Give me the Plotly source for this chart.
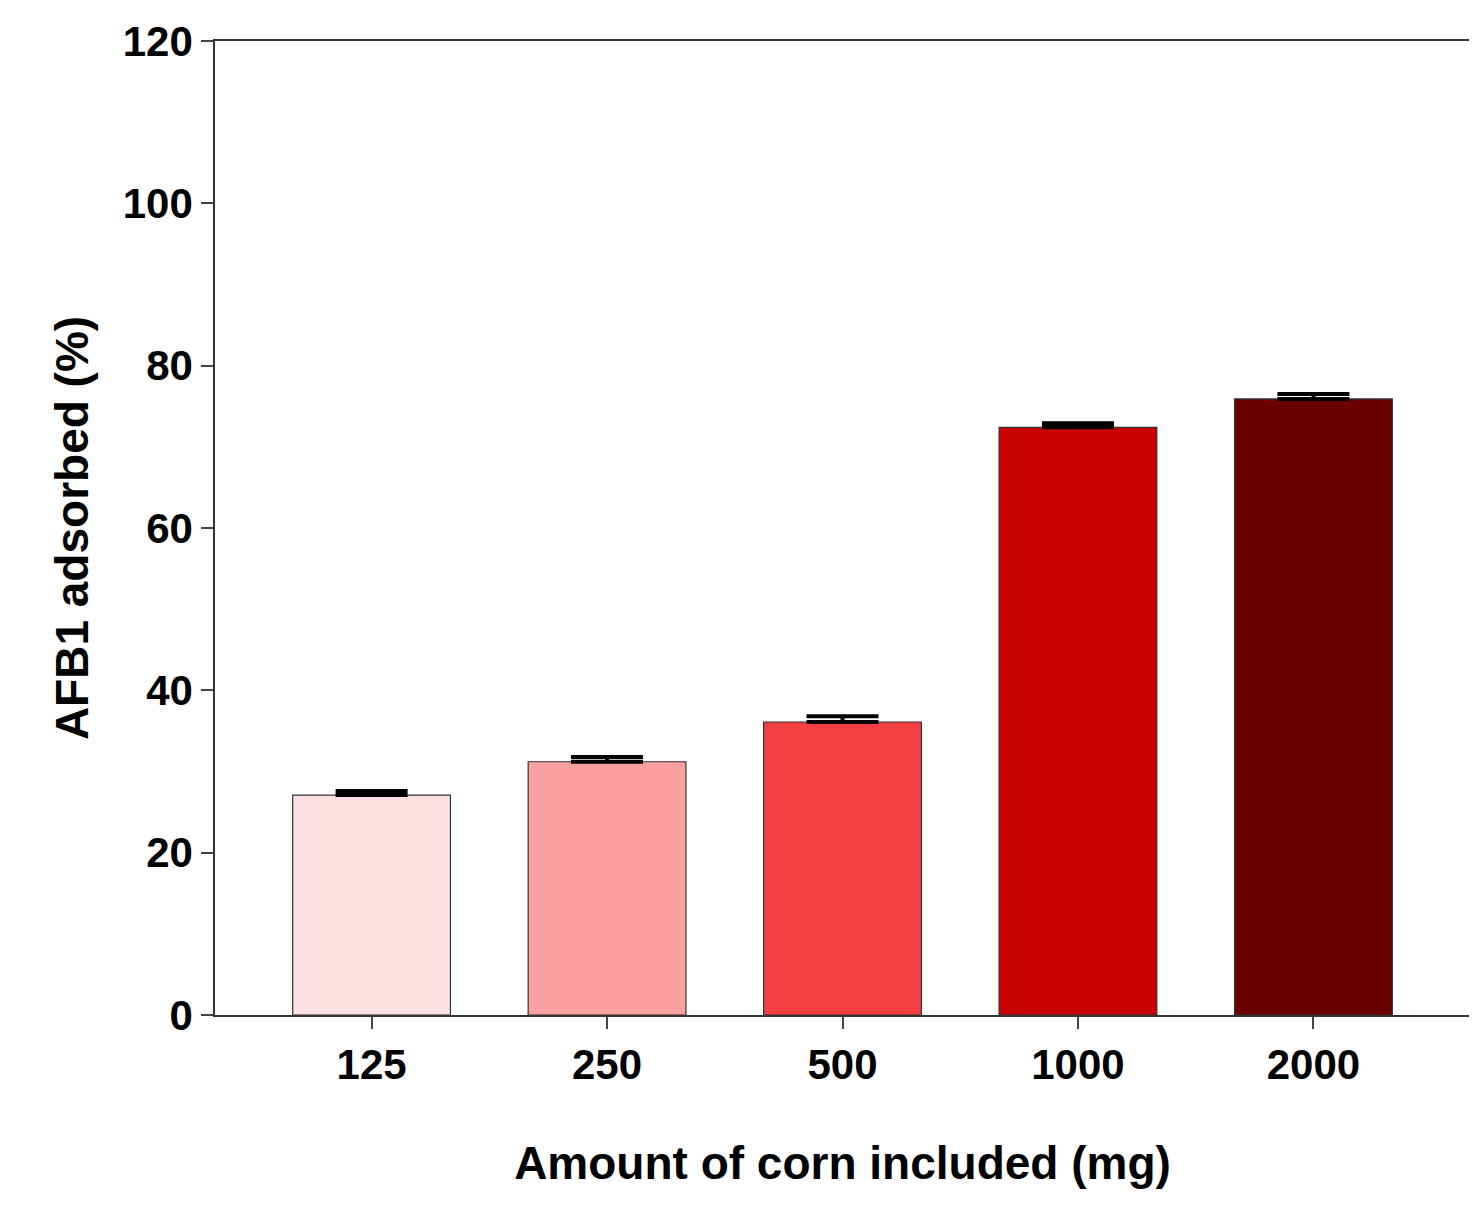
import plotly.graph_objects as go

amounts = ["125", "250", "500", "1000", "2000"]
adsorbed = [27.1, 31.2, 36.1, 72.4, 75.9]
errors = [0.5, 0.6, 0.7, 0.5, 0.6]
letters = ["e", "d", "c", "b", "a"]
colors = ["#FDE0E1", "#FCA0A2", "#F54043", "#C80000", "#6B0000"]

font_main = "Liberation Sans, Arial, sans-serif"

fig = go.Figure()
fig.add_trace(go.Bar(
    x=amounts, y=adsorbed,
    width=0.67,
    marker=dict(color=colors, line=dict(color="#333333", width=1.2)),
    error_y=dict(type="data", symmetric=False, array=errors, arrayminus=[0] * 5,
                 color="black", thickness=4, width=36),
))

for a, v, e, t in zip(amounts, adsorbed, errors, letters):
    fig.add_annotation(x=a, y=v + e, text="<b>" + t + "</b>", showarrow=False,
                       yanchor="bottom", yshift=14,
                       font=dict(family=font_main, size=46, color="black"))

fig.update_layout(
    width=1477, height=1232,
    plot_bgcolor="white", paper_bgcolor="white",
    showlegend=False,
    margin=dict(l=207, r=15, t=33, b=225, autoexpand=False),
    font=dict(family=font_main, color="black"),
)
fig.update_xaxes(
    range=[-0.665, 4.665], automargin=False,
    showline=True, linecolor="#333333", linewidth=1.5, mirror=True,
    ticks="outside", ticklen=12, tickwidth=1.5,
    tickfont=dict(size=42, family=font_main),
    title=dict(text="<b>Amount of corn included (mg)</b>", font=dict(size=46), standoff=60),
    tickprefix="<b>", ticksuffix="</b>",
)
fig.update_yaxes(
    range=[0, 120], dtick=20, automargin=False,
    showline=True, linecolor="#333333", linewidth=1.5, mirror=True,
    showgrid=False, zeroline=False,
    ticks="outside", ticklen=12, tickwidth=1.5,
    tickfont=dict(size=42, family=font_main),
    tickprefix="<b>", ticksuffix="</b>",
    title=dict(text="<b>AFB1 adsorbed (%)</b>", font=dict(size=46), standoff=20),
)

fig.write_html("out.html")
